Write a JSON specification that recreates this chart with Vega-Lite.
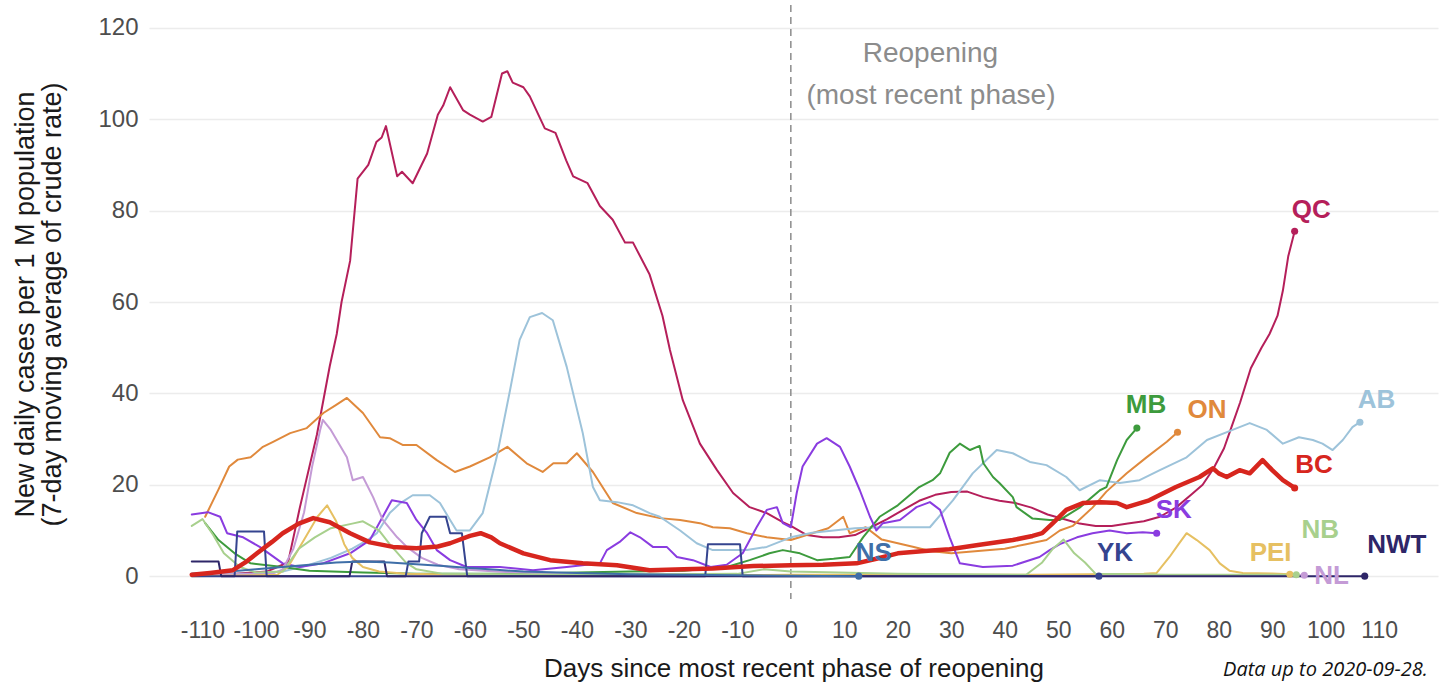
{
  "$schema": "https://vega.github.io/schema/vega-lite/v6.json",
  "autosize": {"type": "none"},
  "padding": {"left": 149, "top": 5, "right": 8, "bottom": 85},
  "width": 1289,
  "height": 594,
  "background": "white",
  "config": {"view": {"stroke": null}, "font": "Liberation Sans"},
  "datasets": {
    "series": [
      {"prov":"QC","day":-112,"val":0.3},{"prov":"QC","day":-104,"val":0.5},{"prov":"QC","day":-98,"val":1},{"prov":"QC","day":-96,"val":2},{"prov":"QC","day":-94,"val":3},{"prov":"QC","day":-91.8,"val":15},{"prov":"QC","day":-88.6,"val":31},{"prov":"QC","day":-86.2,"val":46},{"prov":"QC","day":-84.9,"val":53},{"prov":"QC","day":-84,"val":60},{"prov":"QC","day":-82.4,"val":69},{"prov":"QC","day":-81,"val":87},{"prov":"QC","day":-79,"val":90},{"prov":"QC","day":-77.5,"val":95},{"prov":"QC","day":-76.5,"val":96},{"prov":"QC","day":-75.7,"val":98.5},{"prov":"QC","day":-73.6,"val":87.5},{"prov":"QC","day":-72.7,"val":88.5},{"prov":"QC","day":-70.7,"val":86},{"prov":"QC","day":-68,"val":92.5},{"prov":"QC","day":-66,"val":101},{"prov":"QC","day":-65,"val":103},{"prov":"QC","day":-63.7,"val":107},{"prov":"QC","day":-61.3,"val":102},{"prov":"QC","day":-60,"val":101},{"prov":"QC","day":-57.6,"val":99.5},{"prov":"QC","day":-56,"val":100.5},{"prov":"QC","day":-54,"val":110},{"prov":"QC","day":-53,"val":110.5},{"prov":"QC","day":-52,"val":108},{"prov":"QC","day":-50,"val":107},{"prov":"QC","day":-48.8,"val":105},{"prov":"QC","day":-46,"val":98},{"prov":"QC","day":-44,"val":97},{"prov":"QC","day":-42,"val":91},{"prov":"QC","day":-40.7,"val":87.5},{"prov":"QC","day":-38,"val":86},{"prov":"QC","day":-35.7,"val":81},{"prov":"QC","day":-33.3,"val":78},{"prov":"QC","day":-31,"val":73},{"prov":"QC","day":-29.5,"val":73},{"prov":"QC","day":-26.4,"val":66},{"prov":"QC","day":-24,"val":57},{"prov":"QC","day":-22.6,"val":49.5},{"prov":"QC","day":-20.2,"val":38.5},{"prov":"QC","day":-17,"val":29},{"prov":"QC","day":-13.8,"val":23.2},{"prov":"QC","day":-10.8,"val":18.2},{"prov":"QC","day":-7.7,"val":15.1},{"prov":"QC","day":-4.5,"val":13.8},{"prov":"QC","day":-1.5,"val":11.8},{"prov":"QC","day":0,"val":11},{"prov":"QC","day":3,"val":9},{"prov":"QC","day":6,"val":8.5},{"prov":"QC","day":9,"val":8.5},{"prov":"QC","day":12,"val":9},{"prov":"QC","day":15,"val":10.7},{"prov":"QC","day":18,"val":12.5},{"prov":"QC","day":21,"val":14.5},{"prov":"QC","day":24,"val":16.5},{"prov":"QC","day":27,"val":17.8},{"prov":"QC","day":30,"val":18.4},{"prov":"QC","day":33,"val":18.5},{"prov":"QC","day":36,"val":17.3},{"prov":"QC","day":39,"val":16.5},{"prov":"QC","day":42,"val":16},{"prov":"QC","day":45,"val":15},{"prov":"QC","day":48,"val":13.5},{"prov":"QC","day":51,"val":12.5},{"prov":"QC","day":54,"val":11.5},{"prov":"QC","day":57,"val":11},{"prov":"QC","day":60,"val":11},{"prov":"QC","day":63,"val":11.5},{"prov":"QC","day":66,"val":12},{"prov":"QC","day":69,"val":13},{"prov":"QC","day":72,"val":15},{"prov":"QC","day":75,"val":18},{"prov":"QC","day":77,"val":20},{"prov":"QC","day":79,"val":23.5},{"prov":"QC","day":81,"val":28},{"prov":"QC","day":82.5,"val":33},{"prov":"QC","day":84,"val":38},{"prov":"QC","day":86,"val":45.5},{"prov":"QC","day":88,"val":50},{"prov":"QC","day":89.5,"val":53},{"prov":"QC","day":91,"val":57},{"prov":"QC","day":92,"val":62.5},{"prov":"QC","day":93,"val":70},{"prov":"QC","day":94.2,"val":75.5},

      {"prov":"ON","day":-109.5,"val":13},{"prov":"ON","day":-107,"val":19},{"prov":"ON","day":-105,"val":24},{"prov":"ON","day":-103.4,"val":25.5},{"prov":"ON","day":-101,"val":26},{"prov":"ON","day":-98.7,"val":28.3},{"prov":"ON","day":-96.8,"val":29.4},{"prov":"ON","day":-93.6,"val":31.3},{"prov":"ON","day":-90.5,"val":32.4},{"prov":"ON","day":-87.4,"val":35.7},{"prov":"ON","day":-85,"val":37.5},{"prov":"ON","day":-83,"val":39},{"prov":"ON","day":-80,"val":35.7},{"prov":"ON","day":-76.8,"val":30.4},{"prov":"ON","day":-75,"val":30.2},{"prov":"ON","day":-72.5,"val":28.7},{"prov":"ON","day":-70,"val":28.7},{"prov":"ON","day":-66.2,"val":25.4},{"prov":"ON","day":-62.8,"val":22.8},{"prov":"ON","day":-60,"val":24},{"prov":"ON","day":-56.3,"val":26},{"prov":"ON","day":-53,"val":28.3},{"prov":"ON","day":-49.4,"val":24.7},{"prov":"ON","day":-46.4,"val":22.8},{"prov":"ON","day":-44.4,"val":24.7},{"prov":"ON","day":-41.9,"val":24.7},{"prov":"ON","day":-40,"val":26.9},{"prov":"ON","day":-37,"val":22.8},{"prov":"ON","day":-33.3,"val":16},{"prov":"ON","day":-28.8,"val":13.8},{"prov":"ON","day":-24.5,"val":12.7},{"prov":"ON","day":-20.7,"val":12.3},{"prov":"ON","day":-17,"val":11.6},{"prov":"ON","day":-14.6,"val":10.7},{"prov":"ON","day":-11.4,"val":10.5},{"prov":"ON","day":-8.2,"val":9.4},{"prov":"ON","day":-4.5,"val":8.5},{"prov":"ON","day":0,"val":7.9},{"prov":"ON","day":4,"val":9.4},{"prov":"ON","day":7,"val":10.5},{"prov":"ON","day":9.8,"val":13},{"prov":"ON","day":11,"val":9.4},{"prov":"ON","day":14,"val":10.7},{"prov":"ON","day":17,"val":8},{"prov":"ON","day":20,"val":7.2},{"prov":"ON","day":23,"val":6.4},{"prov":"ON","day":26,"val":5.5},{"prov":"ON","day":30,"val":5},{"prov":"ON","day":35,"val":5.5},{"prov":"ON","day":40,"val":6},{"prov":"ON","day":44,"val":7},{"prov":"ON","day":47.8,"val":7.9},{"prov":"ON","day":50.3,"val":10},{"prov":"ON","day":52.7,"val":11},{"prov":"ON","day":56.4,"val":15},{"prov":"ON","day":59,"val":18.5},{"prov":"ON","day":62.8,"val":22.5},{"prov":"ON","day":66.5,"val":26},{"prov":"ON","day":70.3,"val":29.4},{"prov":"ON","day":72.3,"val":31.5},

      {"prov":"AB","day":-112,"val":0.5},{"prov":"AB","day":-100,"val":0.5},{"prov":"AB","day":-95,"val":1},{"prov":"AB","day":-90,"val":2.5},{"prov":"AB","day":-86,"val":4},{"prov":"AB","day":-82,"val":6},{"prov":"AB","day":-79,"val":8},{"prov":"AB","day":-77.4,"val":9.4},{"prov":"AB","day":-75,"val":13.8},{"prov":"AB","day":-73,"val":16},{"prov":"AB","day":-70.7,"val":17.7},{"prov":"AB","day":-67.5,"val":17.7},{"prov":"AB","day":-65.6,"val":16},{"prov":"AB","day":-63.7,"val":12.3},{"prov":"AB","day":-62.5,"val":10},{"prov":"AB","day":-60,"val":10},{"prov":"AB","day":-57.6,"val":13.8},{"prov":"AB","day":-55,"val":26},{"prov":"AB","day":-52.5,"val":40.7},{"prov":"AB","day":-50.7,"val":51.7},{"prov":"AB","day":-48.8,"val":56.7},{"prov":"AB","day":-46.5,"val":57.6},{"prov":"AB","day":-44.5,"val":56},{"prov":"AB","day":-41.9,"val":45.8},{"prov":"AB","day":-38.9,"val":31.3},{"prov":"AB","day":-37,"val":19.5},{"prov":"AB","day":-35.7,"val":16.6},{"prov":"AB","day":-32.5,"val":16.2},{"prov":"AB","day":-29.5,"val":15.5},{"prov":"AB","day":-26.4,"val":13.8},{"prov":"AB","day":-24.5,"val":13},{"prov":"AB","day":-20.7,"val":10},{"prov":"AB","day":-17.6,"val":7.2},{"prov":"AB","day":-14.6,"val":5.7},{"prov":"AB","day":-8.2,"val":5.7},{"prov":"AB","day":-4.5,"val":6.4},{"prov":"AB","day":0,"val":8.5},{"prov":"AB","day":4,"val":9.5},{"prov":"AB","day":8,"val":10},{"prov":"AB","day":12,"val":10.5},{"prov":"AB","day":16.6,"val":10.7},{"prov":"AB","day":22.8,"val":10.7},{"prov":"AB","day":26,"val":10.7},{"prov":"AB","day":30.3,"val":16.6},{"prov":"AB","day":34,"val":22.5},{"prov":"AB","day":38.5,"val":27.6},{"prov":"AB","day":41.5,"val":26.9},{"prov":"AB","day":44.7,"val":25},{"prov":"AB","day":47.8,"val":24.3},{"prov":"AB","day":51.5,"val":21.7},{"prov":"AB","day":54,"val":18.8},{"prov":"AB","day":57.8,"val":21},{"prov":"AB","day":61.5,"val":20.4},{"prov":"AB","day":65.2,"val":21},{"prov":"AB","day":69,"val":23.2},{"prov":"AB","day":74,"val":26},{"prov":"AB","day":77.8,"val":29.8},{"prov":"AB","day":82.6,"val":32},{"prov":"AB","day":85.8,"val":33.5},{"prov":"AB","day":89,"val":32},{"prov":"AB","day":92,"val":29},{"prov":"AB","day":95,"val":30.4},{"prov":"AB","day":97.6,"val":29.8},{"prov":"AB","day":99.4,"val":29},{"prov":"AB","day":101.3,"val":27.6},{"prov":"AB","day":103.2,"val":29.8},{"prov":"AB","day":105,"val":32.6},{"prov":"AB","day":106.4,"val":33.7},

      {"prov":"BC","day":-112,"val":0.3},{"prov":"BC","day":-108.6,"val":0.7},{"prov":"BC","day":-104.3,"val":1.3},{"prov":"BC","day":-102,"val":3},{"prov":"BC","day":-99.8,"val":5},{"prov":"BC","day":-97,"val":7.5},{"prov":"BC","day":-95,"val":9.4},{"prov":"BC","day":-92,"val":11.5},{"prov":"BC","day":-89.3,"val":12.7},{"prov":"BC","day":-86.2,"val":11.8},{"prov":"BC","day":-82.4,"val":9.4},{"prov":"BC","day":-78.7,"val":7.4},{"prov":"BC","day":-74.4,"val":6.4},{"prov":"BC","day":-70,"val":6.1},{"prov":"BC","day":-66,"val":6.5},{"prov":"BC","day":-63.7,"val":7.2},{"prov":"BC","day":-60,"val":8.8},{"prov":"BC","day":-58,"val":9.4},{"prov":"BC","day":-56,"val":8.5},{"prov":"BC","day":-54.4,"val":7.2},{"prov":"BC","day":-50,"val":5},{"prov":"BC","day":-45,"val":3.5},{"prov":"BC","day":-38.9,"val":2.8},{"prov":"BC","day":-32.5,"val":2.4},{"prov":"BC","day":-26.4,"val":1.3},{"prov":"BC","day":-20,"val":1.5},{"prov":"BC","day":-14.6,"val":1.7},{"prov":"BC","day":-7,"val":2.2},{"prov":"BC","day":0,"val":2.4},{"prov":"BC","day":6,"val":2.5},{"prov":"BC","day":12.3,"val":2.8},{"prov":"BC","day":16,"val":3.8},{"prov":"BC","day":20,"val":5},{"prov":"BC","day":25,"val":5.5},{"prov":"BC","day":29.7,"val":5.9},{"prov":"BC","day":35,"val":6.8},{"prov":"BC","day":41.5,"val":7.9},{"prov":"BC","day":45.2,"val":8.8},{"prov":"BC","day":47,"val":9.4},{"prov":"BC","day":49,"val":11.6},{"prov":"BC","day":51.5,"val":14.5},{"prov":"BC","day":54.6,"val":16},{"prov":"BC","day":58,"val":16.2},{"prov":"BC","day":61,"val":16},{"prov":"BC","day":62.8,"val":15.1},{"prov":"BC","day":67,"val":16.6},{"prov":"BC","day":72,"val":19.5},{"prov":"BC","day":76.4,"val":21.7},{"prov":"BC","day":78.9,"val":23.6},{"prov":"BC","day":80,"val":22.5},{"prov":"BC","day":81.5,"val":21.7},{"prov":"BC","day":83.9,"val":23.2},{"prov":"BC","day":85.8,"val":22.5},{"prov":"BC","day":88.2,"val":25.4},{"prov":"BC","day":90,"val":23.2},{"prov":"BC","day":92,"val":21},{"prov":"BC","day":94.2,"val":19.3},

      {"prov":"MB","day":-109.5,"val":11.6},{"prov":"MB","day":-107,"val":7.9},{"prov":"MB","day":-104,"val":5},{"prov":"MB","day":-101,"val":2.8},{"prov":"MB","day":-95,"val":2},{"prov":"MB","day":-90,"val":1.2},{"prov":"MB","day":-80,"val":0.8},{"prov":"MB","day":-70,"val":0.5},{"prov":"MB","day":-60,"val":0.5},{"prov":"MB","day":-50,"val":0.5},{"prov":"MB","day":-40,"val":0.8},{"prov":"MB","day":-30,"val":1},{"prov":"MB","day":-20,"val":1.2},{"prov":"MB","day":-12,"val":2},{"prov":"MB","day":-7.7,"val":3.5},{"prov":"MB","day":-4,"val":5},{"prov":"MB","day":-1.5,"val":5.7},{"prov":"MB","day":1.7,"val":5},{"prov":"MB","day":4.9,"val":3.5},{"prov":"MB","day":8,"val":3.8},{"prov":"MB","day":11,"val":4.2},{"prov":"MB","day":13.5,"val":8.5},{"prov":"MB","day":16.6,"val":13},{"prov":"MB","day":20,"val":15.5},{"prov":"MB","day":24,"val":19.5},{"prov":"MB","day":26.5,"val":21},{"prov":"MB","day":27.9,"val":22.5},{"prov":"MB","day":29.7,"val":27},{"prov":"MB","day":31.6,"val":29},{"prov":"MB","day":33.5,"val":27.6},{"prov":"MB","day":35.3,"val":28.5},{"prov":"MB","day":36,"val":24.7},{"prov":"MB","day":37.8,"val":21.7},{"prov":"MB","day":39,"val":20.4},{"prov":"MB","day":41.5,"val":17.3},{"prov":"MB","day":42.2,"val":15.1},{"prov":"MB","day":45.2,"val":12.6},{"prov":"MB","day":48.4,"val":12.3},{"prov":"MB","day":50.3,"val":12.3},{"prov":"MB","day":54,"val":15},{"prov":"MB","day":57.8,"val":18.8},{"prov":"MB","day":59,"val":19.5},{"prov":"MB","day":61,"val":25.4},{"prov":"MB","day":62.8,"val":29.8},{"prov":"MB","day":64.7,"val":32.4},

      {"prov":"SK","day":-112,"val":13.5},{"prov":"SK","day":-109,"val":14},{"prov":"SK","day":-106.7,"val":13},{"prov":"SK","day":-105.4,"val":9.4},{"prov":"SK","day":-102.4,"val":8.5},{"prov":"SK","day":-99.3,"val":6.4},{"prov":"SK","day":-95,"val":2.8},{"prov":"SK","day":-91.8,"val":2},{"prov":"SK","day":-87.5,"val":2.8},{"prov":"SK","day":-82.4,"val":5},{"prov":"SK","day":-78.7,"val":7.9},{"prov":"SK","day":-76.3,"val":13},{"prov":"SK","day":-74.6,"val":16.6},{"prov":"SK","day":-71.8,"val":16},{"prov":"SK","day":-70,"val":12.3},{"prov":"SK","day":-68,"val":9.4},{"prov":"SK","day":-66.2,"val":5.7},{"prov":"SK","day":-63.7,"val":3.5},{"prov":"SK","day":-60.6,"val":2},{"prov":"SK","day":-54.4,"val":2},{"prov":"SK","day":-48.2,"val":1.3},{"prov":"SK","day":-41.9,"val":2},{"prov":"SK","day":-35.7,"val":2.8},{"prov":"SK","day":-34.4,"val":5.7},{"prov":"SK","day":-32,"val":7.5},{"prov":"SK","day":-30,"val":9.6},{"prov":"SK","day":-28.2,"val":8.5},{"prov":"SK","day":-25.8,"val":6.4},{"prov":"SK","day":-23.2,"val":6.4},{"prov":"SK","day":-21.3,"val":4.2},{"prov":"SK","day":-18.3,"val":3.5},{"prov":"SK","day":-15,"val":2},{"prov":"SK","day":-12,"val":2.5},{"prov":"SK","day":-9,"val":5},{"prov":"SK","day":-6.4,"val":10.7},{"prov":"SK","day":-4.5,"val":14.5},{"prov":"SK","day":-2.6,"val":15.1},{"prov":"SK","day":-1.5,"val":11.6},{"prov":"SK","day":0,"val":10.7},{"prov":"SK","day":1.1,"val":18.2},{"prov":"SK","day":2.2,"val":24},{"prov":"SK","day":4.9,"val":29},{"prov":"SK","day":6.7,"val":30.2},{"prov":"SK","day":9.2,"val":28.3},{"prov":"SK","day":11,"val":24},{"prov":"SK","day":12.9,"val":18.8},{"prov":"SK","day":14.8,"val":13},{"prov":"SK","day":16,"val":10},{"prov":"SK","day":17.2,"val":11.6},{"prov":"SK","day":20.4,"val":12.3},{"prov":"SK","day":23.5,"val":15.1},{"prov":"SK","day":26,"val":16.2},{"prov":"SK","day":27.9,"val":14.5},{"prov":"SK","day":29.7,"val":8.5},{"prov":"SK","day":31.6,"val":2.8},{"prov":"SK","day":35.9,"val":2},{"prov":"SK","day":41.5,"val":2.3},{"prov":"SK","day":46.5,"val":4.2},{"prov":"SK","day":48.4,"val":5.7},{"prov":"SK","day":50.3,"val":7},{"prov":"SK","day":53.5,"val":8.5},{"prov":"SK","day":56.4,"val":9.4},{"prov":"SK","day":59.6,"val":10},{"prov":"SK","day":62.8,"val":9.4},{"prov":"SK","day":65.8,"val":9.6},{"prov":"SK","day":68.4,"val":9.4},

      {"prov":"NL","day":-112,"val":0.3},{"prov":"NL","day":-97,"val":0.5},{"prov":"NL","day":-95,"val":1.5},{"prov":"NL","day":-93,"val":6},{"prov":"NL","day":-91,"val":14},{"prov":"NL","day":-89.5,"val":24},{"prov":"NL","day":-88,"val":32},{"prov":"NL","day":-87.5,"val":34.2},{"prov":"NL","day":-86,"val":32},{"prov":"NL","day":-84.9,"val":29.8},{"prov":"NL","day":-83,"val":26},{"prov":"NL","day":-81.9,"val":21},{"prov":"NL","day":-80,"val":21.7},{"prov":"NL","day":-78.1,"val":17.3},{"prov":"NL","day":-76.3,"val":12.3},{"prov":"NL","day":-73.6,"val":8.5},{"prov":"NL","day":-71.8,"val":6.4},{"prov":"NL","day":-69,"val":4},{"prov":"NL","day":-66,"val":2.5},{"prov":"NL","day":-62,"val":1.5},{"prov":"NL","day":-55,"val":1},{"prov":"NL","day":-45,"val":0.5},{"prov":"NL","day":-30,"val":0.3},{"prov":"NL","day":-10,"val":0.2},{"prov":"NL","day":10,"val":0.2},{"prov":"NL","day":40,"val":0.2},{"prov":"NL","day":70,"val":0.2},{"prov":"NL","day":96,"val":0.2},

      {"prov":"PEI","day":-112,"val":0},{"prov":"PEI","day":-96,"val":0.3},{"prov":"PEI","day":-94,"val":2},{"prov":"PEI","day":-92,"val":6},{"prov":"PEI","day":-90,"val":10},{"prov":"PEI","day":-88.5,"val":13},{"prov":"PEI","day":-86.7,"val":15.5},{"prov":"PEI","day":-85,"val":12},{"prov":"PEI","day":-83.5,"val":7},{"prov":"PEI","day":-82,"val":4},{"prov":"PEI","day":-80,"val":2},{"prov":"PEI","day":-77,"val":1},{"prov":"PEI","day":-72,"val":0.5},{"prov":"PEI","day":-60,"val":0.3},{"prov":"PEI","day":-40,"val":0.2},{"prov":"PEI","day":-20,"val":0.2},{"prov":"PEI","day":0,"val":0.3},{"prov":"PEI","day":20,"val":0.3},{"prov":"PEI","day":45,"val":0.3},{"prov":"PEI","day":66,"val":0.5},{"prov":"PEI","day":68.4,"val":0.7},{"prov":"PEI","day":70.8,"val":4.2},{"prov":"PEI","day":72.5,"val":7},{"prov":"PEI","day":74,"val":9.4},{"prov":"PEI","day":75.9,"val":7.9},{"prov":"PEI","day":78.3,"val":5.7},{"prov":"PEI","day":80.2,"val":2.8},{"prov":"PEI","day":82,"val":1.2},{"prov":"PEI","day":84.5,"val":0.7},{"prov":"PEI","day":90,"val":0.6},{"prov":"PEI","day":93.3,"val":0.4},

      {"prov":"NB","day":-112,"val":11},{"prov":"NB","day":-110,"val":12.5},{"prov":"NB","day":-108,"val":9},{"prov":"NB","day":-106,"val":5},{"prov":"NB","day":-103,"val":2},{"prov":"NB","day":-100,"val":0.8},{"prov":"NB","day":-95,"val":1},{"prov":"NB","day":-92,"val":6},{"prov":"NB","day":-89,"val":8.5},{"prov":"NB","day":-86,"val":10.5},{"prov":"NB","day":-82,"val":11.5},{"prov":"NB","day":-80,"val":12},{"prov":"NB","day":-77,"val":10},{"prov":"NB","day":-75,"val":7},{"prov":"NB","day":-72,"val":3},{"prov":"NB","day":-70,"val":1.5},{"prov":"NB","day":-65,"val":0.5},{"prov":"NB","day":-40,"val":0.3},{"prov":"NB","day":-10,"val":0.5},{"prov":"NB","day":-5,"val":1.5},{"prov":"NB","day":0,"val":1},{"prov":"NB","day":20,"val":0.5},{"prov":"NB","day":44,"val":0.3},{"prov":"NB","day":47,"val":3},{"prov":"NB","day":49,"val":6},{"prov":"NB","day":51,"val":8},{"prov":"NB","day":53,"val":5},{"prov":"NB","day":55,"val":3},{"prov":"NB","day":57,"val":0.5},{"prov":"NB","day":70,"val":0.3},{"prov":"NB","day":94.5,"val":0.3},

      {"prov":"YK","day":-112,"val":0},{"prov":"YK","day":-104,"val":0},{"prov":"YK","day":-103.5,"val":9.8},{"prov":"YK","day":-98.5,"val":9.8},{"prov":"YK","day":-98,"val":0},{"prov":"YK","day":-72,"val":0},{"prov":"YK","day":-71.5,"val":3.2},{"prov":"YK","day":-69.5,"val":3.2},{"prov":"YK","day":-69,"val":9.4},{"prov":"YK","day":-67.5,"val":13},{"prov":"YK","day":-64.5,"val":13},{"prov":"YK","day":-63.7,"val":9.4},{"prov":"YK","day":-61.5,"val":9.4},{"prov":"YK","day":-60.5,"val":0},{"prov":"YK","day":-16,"val":0},{"prov":"YK","day":-15.5,"val":7},{"prov":"YK","day":-9.5,"val":7},{"prov":"YK","day":-9,"val":0},{"prov":"YK","day":45,"val":0},{"prov":"YK","day":57.6,"val":0},

      {"prov":"NWT","day":-112,"val":3.2},{"prov":"NWT","day":-107,"val":3.2},{"prov":"NWT","day":-106.5,"val":0},{"prov":"NWT","day":-82.5,"val":0},{"prov":"NWT","day":-82,"val":3.2},{"prov":"NWT","day":-76,"val":3.2},{"prov":"NWT","day":-75.5,"val":0},{"prov":"NWT","day":-40,"val":0},{"prov":"NWT","day":107.3,"val":0},

      {"prov":"NS","day":-112,"val":0.5},{"prov":"NS","day":-105,"val":1},{"prov":"NS","day":-100,"val":1.5},{"prov":"NS","day":-95,"val":2},{"prov":"NS","day":-90,"val":2.5},{"prov":"NS","day":-85,"val":3},{"prov":"NS","day":-80,"val":3.2},{"prov":"NS","day":-75,"val":3},{"prov":"NS","day":-70,"val":2.6},{"prov":"NS","day":-65,"val":2.2},{"prov":"NS","day":-60,"val":1.8},{"prov":"NS","day":-55,"val":1.4},{"prov":"NS","day":-50,"val":1},{"prov":"NS","day":-40,"val":0.7},{"prov":"NS","day":-30,"val":0.4},{"prov":"NS","day":-20,"val":0.3},{"prov":"NS","day":-10,"val":0.2},{"prov":"NS","day":0,"val":0.1},{"prov":"NS","day":12.7,"val":0}
    ],
    "labels": [
      {"prov":"QC","day":97.3,"val":80.1},
      {"prov":"MB","day":66.4,"val":37.4},
      {"prov":"ON","day":77.8,"val":36.3},
      {"prov":"AB","day":109.5,"val":38.5},
      {"prov":"BC","day":97.8,"val":24.3},
      {"prov":"SK","day":71.6,"val":14.5},
      {"prov":"NB","day":99,"val":10},
      {"prov":"PEI","day":89.7,"val":5},
      {"prov":"NL","day":101.1,"val":0},
      {"prov":"NWT","day":113.3,"val":6.8},
      {"prov":"YK","day":60.6,"val":5},
      {"prov":"NS","day":15.5,"val":5}
    ],
    "notes": [
      {"note":"Reopening","day":26.1,"val":112.6},
      {"note":"(most recent phase)","day":26.2,"val":103.3}
    ],
    "source": [
      {"note":"Data up to 2020-09-28.","day":119.1,"val":-21.9}
    ],
    "reopen": [{"day":0}]
  },
  "layer": [
    {
      "data": {"name": "reopen"},
      "mark": {"type": "rule", "color": "#8c8c8c", "strokeDash": [7, 5], "strokeWidth": 1.5},
      "encoding": {
        "x": {"field": "day", "type": "quantitative", "scale": {"domain": [-120, 121], "nice": false, "zero": false}}
      }
    },
    {
      "data": {"name": "series"},
      "transform": [{"filter": "datum.prov !== 'BC'"}],
      "mark": {"type": "line", "strokeWidth": 2, "strokeJoin": "round", "strokeCap": "round"},
      "encoding": {
        "x": {"field": "day", "type": "quantitative", "scale": {"domain": [-120, 121], "nice": false, "zero": false},
          "axis": {"values": [-110,-100,-90,-80,-70,-60,-50,-40,-30,-20,-10,0,10,20,30,40,50,60,70,80,90,100,110],
            "labelExpr": "'' + datum.value",
            "grid": false, "domain": false, "ticks": false, "labelFontSize": 23, "labelColor": "#4d4d4d", "labelPadding": 20,
            "labelOverlap": false, "labelFlush": false,
            "title": "Days since most recent phase of reopening", "titleFontSize": 26, "titleFontWeight": "normal",
            "titleColor": "#1a1a1a", "titleY": 69, "titleBaseline": "middle"}},
        "y": {"field": "val", "type": "quantitative", "scale": {"domain": [-5, 125], "nice": false, "zero": false},
          "axis": {"values": [0,20,40,60,80,100,120], "grid": true, "gridColor": "#ececec", "gridWidth": 1.5,
            "domain": false, "ticks": false, "labelFontSize": 24, "labelColor": "#4d4d4d", "labelPadding": 11,
            "title": ["New daily cases per 1 M population", "(7-day moving average of crude rate)"],
            "titleFontSize": 27, "titleFontWeight": "normal", "titleColor": "#1a1a1a", "titleX": -124, "titleY": 299,
            "titleAngle": -90, "titleBaseline": "middle", "titleAlign": "center", "titleLineHeight": 27}},
        "color": {"field": "prov", "type": "nominal", "legend": null,
          "scale": {"domain": ["QC","ON","AB","BC","MB","SK","NB","PEI","NL","NWT","YK","NS"],
            "range": ["#b51f5a","#e0893c","#9dc3da","#d7261e","#3d9b3d","#8a3ce0","#a8d08d","#e6c062","#c49bd6","#2e2668","#35448f","#3f6fa8"]}},
        "detail": {"field": "prov"}
      }
    },
    {
      "data": {"name": "series"},
      "transform": [{"filter": "datum.prov === 'BC'"}],
      "mark": {"type": "line", "strokeWidth": 4.5, "strokeJoin": "round", "strokeCap": "round"},
      "encoding": {
        "x": {"field": "day", "type": "quantitative"},
        "y": {"field": "val", "type": "quantitative"},
        "color": {"field": "prov", "type": "nominal", "legend": null}
      }
    },
    {
      "data": {"name": "series"},
      "transform": [
        {"joinaggregate": [{"op": "max", "field": "day", "as": "maxday"}], "groupby": ["prov"]},
        {"filter": "datum.day === datum.maxday"}
      ],
      "mark": {"type": "circle", "size": 50, "opacity": 1},
      "encoding": {
        "x": {"field": "day", "type": "quantitative"},
        "y": {"field": "val", "type": "quantitative"},
        "color": {"field": "prov", "type": "nominal", "legend": null}
      }
    },
    {
      "data": {"name": "labels"},
      "mark": {"type": "text", "fontSize": 26, "fontWeight": "bold", "align": "center", "baseline": "middle"},
      "encoding": {
        "x": {"field": "day", "type": "quantitative"},
        "y": {"field": "val", "type": "quantitative"},
        "text": {"field": "prov"},
        "color": {"field": "prov", "type": "nominal", "legend": null}
      }
    },
    {
      "data": {"name": "notes"},
      "mark": {"type": "text", "fontSize": 28, "color": "#8c8c8c", "align": "center", "baseline": "alphabetic"},
      "encoding": {
        "x": {"field": "day", "type": "quantitative"},
        "y": {"field": "val", "type": "quantitative"},
        "text": {"field": "note"}
      }
    },
    {
      "data": {"name": "source"},
      "mark": {"type": "text", "fontSize": 20, "font": "Open Sans", "fontStyle": "italic", "color": "#111111", "align": "right", "baseline": "alphabetic"},
      "encoding": {
        "x": {"field": "day", "type": "quantitative"},
        "y": {"field": "val", "type": "quantitative"},
        "text": {"field": "note"}
      }
    }
  ]
}
